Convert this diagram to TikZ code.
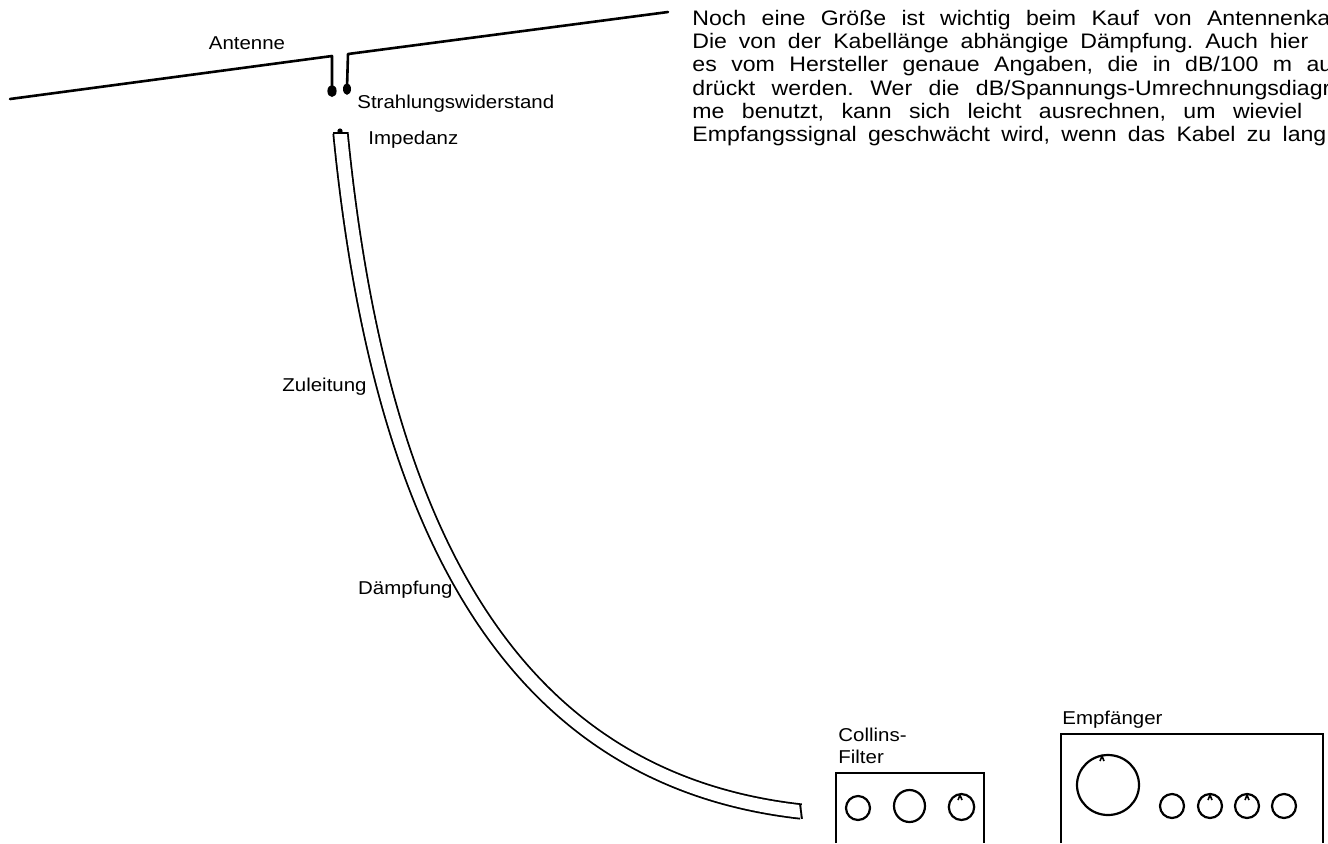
\documentclass[tikz,border=0pt]{standalone}
\usepackage{fontspec}
\setmainfont{Liberation Sans}[FakeStretch=1.1]
\usetikzlibrary{calc}
\frenchspacing
\tikzstyle{wire}=[line width=1.3pt,line cap=round,line join=round]
\tikzstyle{cable}=[line width=0.9pt,double distance=6.3pt]
\tikzstyle{cablecap}=[line width=0.9pt]
\tikzstyle{panel}=[line width=1.1pt]
\tikzstyle{knob}=[line width=1.1pt]
\tikzstyle{lbl}=[inner sep=0pt,font=\fontsize{9.3}{11}\selectfont]
\tikzstyle{para}=[inner sep=0pt,anchor=base west,font=\fontsize{10.5}{11.6}\selectfont]
% knob: center x, center y, radii in px (1px = 0.5pt)
\newcommand{\knob}[4]{
	\draw[knob] (#1,#2) ellipse ({#3*0.5pt} and {#4*0.5pt});
}
% little pointer mark on top of a knob
\newcommand{\pointer}[2]{
	\draw[knob,line width=0.8pt] ($(#1,#2)+(-2,5)$) -- (#1,#2) -- ($(#1,#2)+(2,5)$);
}
\begin{document}
\begin{tikzpicture}[x=0.5pt,y=-0.5pt]
	\useasboundingbox (0,0) rectangle (1328,843);
	% dipole with feed point
	\coordinate (antL) at (10,99);
	\coordinate (feedL) at (332,56);
	\coordinate (termL) at (332,88);
	\coordinate (antR) at (668,12);
	\coordinate (feedR) at (348,54);
	\coordinate (termR) at (347,88);
	\draw[wire] (antL) -- (feedL) -- (termL);
	\draw[wire] (antR) -- (feedR) -- (termR);
	\fill (332,91) ellipse (2.3pt and 3pt);
	\fill (347,89) ellipse (2pt and 2.9pt);
	% feeder cable
	\coordinate (cabletop) at (340.5,133);
	\coordinate (cableend) at (801,811.5);
	\draw[cable] (cabletop) .. controls (378,513) and (501,778) .. (cableend);
	\draw[cablecap] ($(cabletop)+(-7.2,0)$) -- ($(cabletop)+(7.2,0)$);
	\fill (340,131) circle (1.3pt);
	\draw[cablecap] ($(cableend)+(-1,-7.3)$) -- ($(cableend)+(1,7.3)$);
	% labels
	\node[lbl] (antenne) at (247,43) {Antenne};
	\node[lbl,anchor=west] (strahlung) at (357,104) {Strahlungswiderstand};
	\node[lbl,anchor=west] (impedanz) at (368,140) {Impedanz};
	\node[lbl,anchor=east] (zuleitung) at (367,387) {Zuleitung};
	\node[lbl,anchor=east] (daempfung) at (453,590) {Dämpfung};
	\node[lbl,anchor=west,align=left] (collins) at (838,746) {Collins-\\Filter};
	\node[lbl,anchor=west] (empf) at (1062,720) {Empfänger};
	% Collins filter
	\draw[panel] (836,843) -- (836,773) -- (984,773) -- (984,843);
	\knob{858}{808}{12}{12}
	\knob{909.5}{806}{15.5}{16}
	\knob{961.5}{807}{12.7}{13}
	\pointer{960}{795}
	% receiver
	\draw[panel] (1061,843) -- (1061,734) -- (1323,734) -- (1323,843);
	\knob{1108}{785}{31}{30}
	\pointer{1102}{756}
	\foreach \kx in {1172,1210,1247,1284}
		\knob{\kx}{806}{12}{12};
	\pointer{1210}{795}
	\pointer{1247}{795}
	% text column, cut at the right edge
	\begin{scope}
	\clip (0,0) rectangle (1328,843);
	\node[para] (line1) at (692,25) {\makebox[319pt][s]{Noch eine Größe ist wichtig beim Kauf von Antennenka}};
	\node[para] (line2) at (692,48.3) {\makebox[308pt][s]{Die von der Kabellänge abhängige Dämpfung. Auch hier}};
	\node[para] (line3) at (692,71.7) {\makebox[320pt][s]{es vom Hersteller genaue Angaben, die in dB/100 m au}};
	\node[para] (line4) at (692,95) {\makebox[319pt][s]{drückt werden. Wer die dB/Spannungs-Umrechnungsdiagr}};
	\node[para] (line5) at (692,118.3) {\makebox[305pt][s]{me benutzt, kann sich leicht ausrechnen, um wieviel}};
	\node[para] (line6) at (692,141.7) {\makebox[317pt][s]{Empfangssignal geschwächt wird, wenn das Kabel zu lang}};
	\end{scope}
\end{tikzpicture}
\end{document}
